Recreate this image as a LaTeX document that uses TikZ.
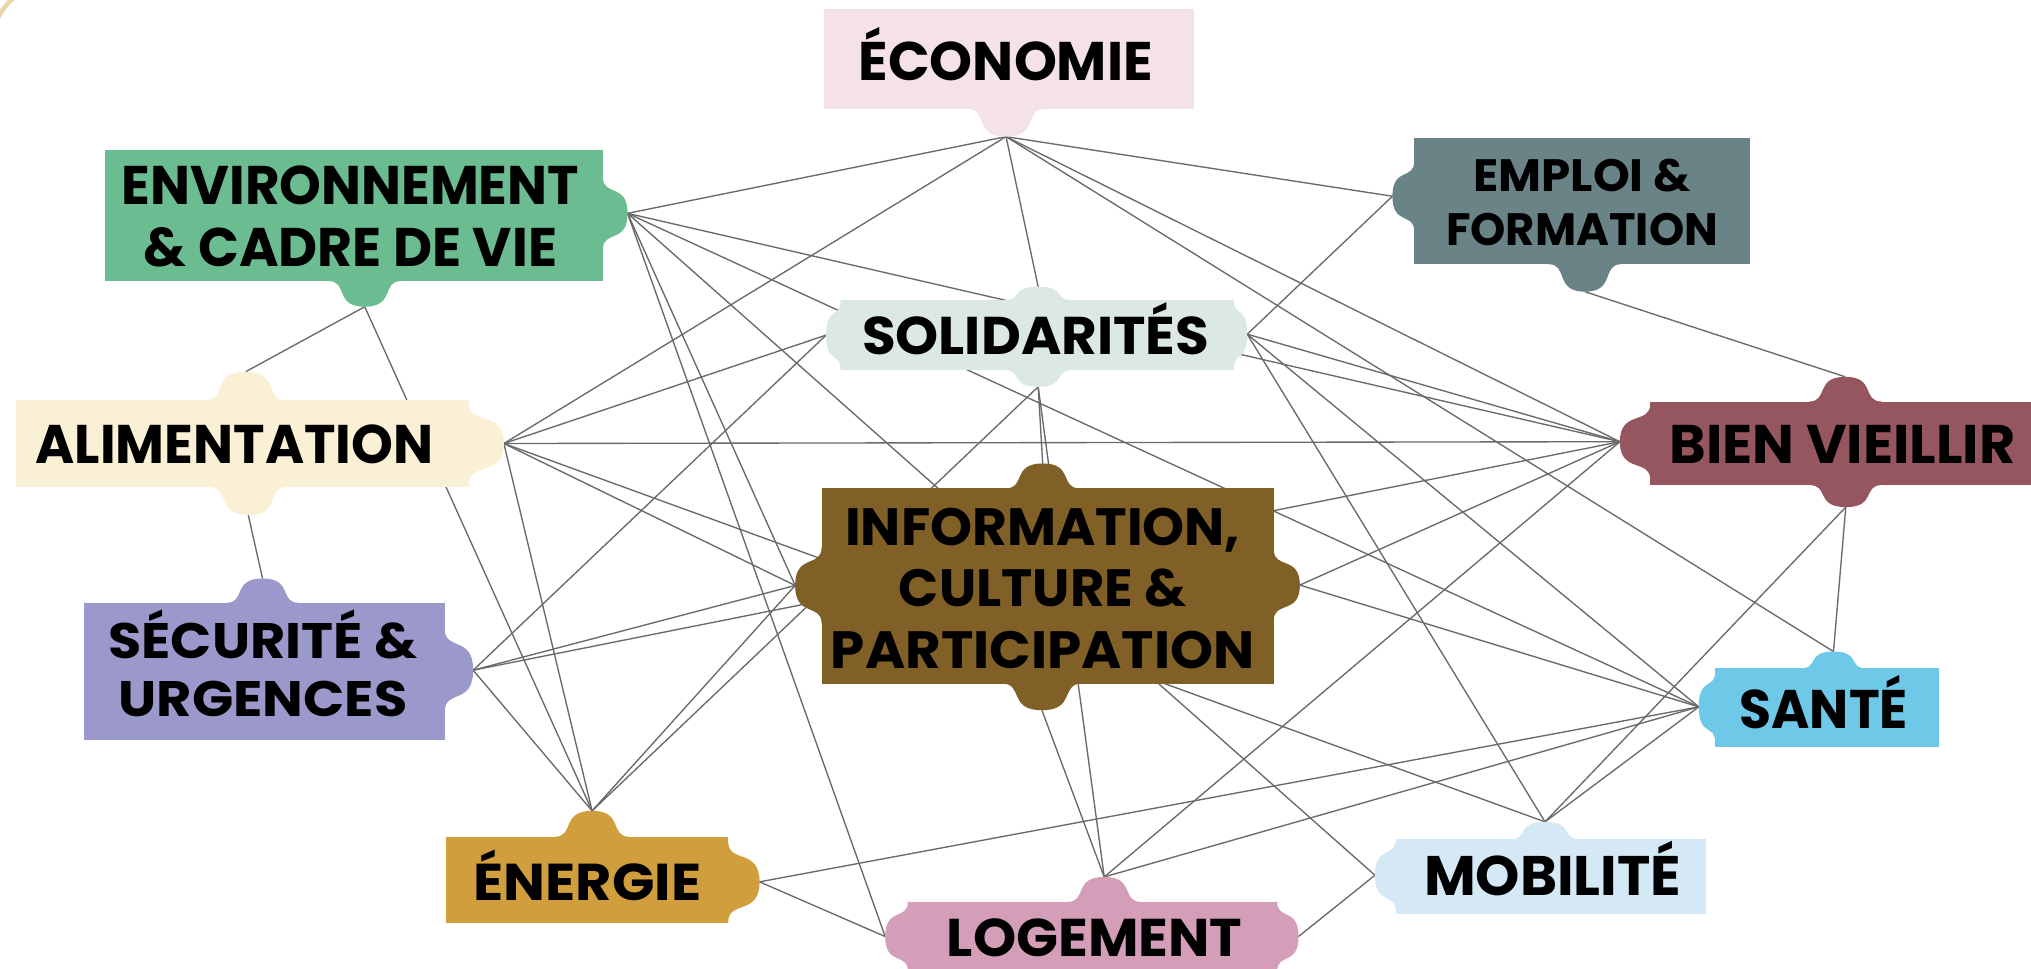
\documentclass[tikz,border=0pt]{standalone}
\usepackage{fontspec}
\setmainfont{Poppins}
\usepackage{graphicx}
\definecolor{ecoC}{HTML}{F5E1E9}
\definecolor{envC}{HTML}{6BBD91}
\definecolor{empC}{HTML}{6A8387}
\definecolor{solC}{HTML}{DCE8E3}
\definecolor{aliC}{HTML}{F9F0D6}
\definecolor{bvC}{HTML}{955660}
\definecolor{infC}{HTML}{806026}
\definecolor{secC}{HTML}{9B99CB}
\definecolor{sanC}{HTML}{6EC8E8}
\definecolor{enC}{HTML}{D09E3C}
\definecolor{mobC}{HTML}{D4E8F6}
\definecolor{logC}{HTML}{D49DB8}
\definecolor{linkC}{HTML}{6A6A6A}
\definecolor{arcC}{HTML}{EAD7A6}
\newcommand\fw[2]{\resizebox{#1}{\height}{#2}}
\newcommand\bmp[6]{\begin{scope}[shift={(#1,#2)},rotate=#3]
  \fill[#6] (-#4pt,-0.8pt) -- (-#4pt,0pt) .. controls (-0.45*#4pt,0pt) and (-0.85*#4pt,#5pt) .. (0pt,#5pt)
    .. controls (0.85*#4pt,#5pt) and (0.45*#4pt,0pt) .. (#4pt,0pt) -- (#4pt,-0.8pt) -- cycle;
  \end{scope}}
\tikzset{
  link/.style={draw=linkC, line width=1.05pt},
  box/.style={rectangle, inner sep=0pt, outer sep=0pt, draw=none},
  lbl/.style={anchor=base, inner sep=0pt, outer sep=0pt, text=black, align=center},
}
\begin{document}
\begin{tikzpicture}[x=1pt,y=-1pt]
\useasboundingbox (0,0) rectangle (1568,748);
\clip (0,0) rectangle (1568,748);
\fill[white] (0,0) rectangle (1568,748);
\draw[arcC, line width=3.5pt] (-1,13) .. controls (2,7) and (5,3) .. (10,-1);
% anchors
\coordinate (E) at (776.7,105.5);
\coordinate (envR) at (484.5,164.7);
\coordinate (envB) at (281.6,236.8);
\coordinate (empL) at (1075,151.5);
\coordinate (empB) at (1223.6,225.2);
\coordinate (solT) at (801.5,221.4);
\coordinate (solB) at (801.5,298.6);
\coordinate (solL) at (637.8,258.7);
\coordinate (solR) at (962.9,258);
\coordinate (aliT) at (189.6,287);
\coordinate (aliR) at (389,342.4);
\coordinate (aliB) at (191.7,397.7);
\coordinate (bvL) at (1250.6,341);
\coordinate (bvT) at (1424.6,290.9);
\coordinate (bvB) at (1425,391.5);
\coordinate (infT) at (805,357.8);
\coordinate (infL) at (613.9,452);
\coordinate (infR) at (1003.5,451.7);
\coordinate (infB) at (804.4,548.3);
\coordinate (secT) at (202.7,446.6);
\coordinate (secR) at (365.3,517.4);
\coordinate (sanL) at (1311.5,545.7);
\coordinate (sanT) at (1415.5,503);
\coordinate (enT) at (457.1,626);
\coordinate (enR) at (586.4,680.8);
\coordinate (mobL) at (1061.5,675.7);
\coordinate (mobT) at (1192.8,634.5);
\coordinate (logT) at (852.5,677);
\coordinate (logL) at (683.4,723);
\coordinate (logR) at (1002.5,723);
% connectors
\foreach \a/\b in {E/envR, E/aliR, E/solT, E/empL, E/bvL, E/sanT,
  envR/bvL, envR/sanL, envR/mobL, envR/logL, envR/infL,
  envB/aliT, envB/enT, empL/solR, empB/bvT,
  solL/aliR, solL/secR, solB/infT, solB/logT, solB/enT,
  solR/bvL, solR/sanL, solR/mobT,
  aliR/bvL, aliR/infL, aliR/mobT, aliR/enT, aliB/secT,
  bvL/secR, bvL/infR, bvL/logT, bvB/sanT, bvB/mobT,
  infL/secR, infL/enT, infR/sanL, infB/logT,
  secR/enT, sanL/enR, sanL/logT, sanL/mobT, enR/logL, logR/mobL}
  \draw[link] (\a) -- (\b);
% bumps
\bmp{776.7}{84}{180}{30}{21.5}{ecoC}
\bmp{465.4}{164.7}{-90}{28}{19.1}{envC}
\bmp{281.6}{217}{180}{28}{19.8}{envC}
\bmp{1091.8}{151.5}{90}{27}{16.8}{empC}
\bmp{1223.6}{204}{180}{28}{21.2}{empC}
\bmp{801.5}{231.7}{0}{26}{10.3}{solC}
\bmp{801.5}{285.7}{180}{26}{12.9}{solC}
\bmp{649}{258.7}{90}{27}{11.2}{solC}
\bmp{952.5}{258}{-90}{27}{10.4}{solC}
\bmp{189.6}{309}{0}{31}{22}{aliC}
\bmp{362}{342.4}{-90}{31}{27}{aliC}
\bmp{191.7}{376}{180}{30}{21.7}{aliC}
\bmp{1274}{341}{90}{29}{23.4}{bvC}
\bmp{1424.6}{310}{0}{28}{19.1}{bvC}
\bmp{1425}{374.5}{180}{28}{17}{bvC}
\bmp{805}{377}{0}{28.5}{19.2}{infC}
\bmp{634.3}{452}{90}{29.5}{20.4}{infC}
\bmp{983.5}{451.7}{-90}{27}{20}{infC}
\bmp{804.4}{527.7}{180}{31}{20.6}{infC}
\bmp{202.7}{465.4}{0}{28}{18.8}{secC}
\bmp{343.3}{517.4}{-90}{32}{22}{secC}
\bmp{1324.3}{545.7}{90}{28}{12.8}{sanC}
\bmp{1415.5}{516}{0}{25}{13}{sanC}
\bmp{457.1}{646}{0}{29}{20}{enC}
\bmp{562.2}{680.8}{-90}{31}{24.2}{enC}
\bmp{1077.7}{675.7}{90}{28}{16.2}{mobC}
\bmp{1192.8}{648}{0}{27}{13.5}{mobC}
\bmp{852.5}{696.3}{0}{28.5}{19.3}{logC}
\bmp{701}{723}{90}{27}{17.6}{logC}
\bmp{986}{723}{-90}{27}{16.5}{logC}
% boxes
\node[box, fill=ecoC, minimum width=285.6pt, minimum height=77pt] (eco) at (779.2,45.5) {};
\node[box, fill=envC, minimum width=384.4pt, minimum height=101.2pt] (env) at (273.2,166.4) {};
\node[box, fill=empC, minimum width=259.6pt, minimum height=97.2pt] (emp) at (1221.6,155.4) {};
\node[box, fill=solC, minimum width=303.5pt, minimum height=54pt] (sol) at (800.75,258.7) {};
\node[box, fill=aliC, minimum width=349.6pt, minimum height=67pt] (ali) at (187.2,342.5) {};
\node[box, fill=bvC, minimum width=296pt, minimum height=64.5pt] (bv) at (1422,342.25) {};
\node[box, fill=infC, minimum width=349.2pt, minimum height=150.7pt] (inf) at (808.9,452.35) {};
\node[box, fill=secC, minimum width=278.5pt, minimum height=105.6pt] (sec) at (204.05,518.2) {};
\node[box, fill=sanC, minimum width=172.7pt, minimum height=60.6pt] (san) at (1410.65,546.3) {};
\node[box, fill=enC, minimum width=217.8pt, minimum height=66.5pt] (en) at (453.3,679.25) {};
\node[box, fill=mobC, minimum width=239.7pt, minimum height=57.3pt] (mob) at (1197.55,676.65) {};
\node[box, fill=logC, minimum width=285pt, minimum height=63.7pt] (log) at (843.5,728.15) {};
% labels (base anchor = baseline of the last line)
\node[lbl, font=\bfseries\fontsize{42}{48}\selectfont] (ecoT) at (776.5,61.8) {\fw{227pt}{ÉCONOMIE}};
\node[lbl, font=\bfseries\fontsize{42}{48.5}\selectfont] (envT) at (270.6,206) {\fw{353pt}{ENVIRONNEMENT}\\\fw{319pt}{\& CADRE DE VIE}};
\node[lbl, font=\bfseries\fontsize{35}{41.2}\selectfont] (empT) at (1221.5,189.2) {\fw{168pt}{EMPLOI \&}\\\fw{210pt}{FORMATION}};
\node[lbl, font=\bfseries\fontsize{41}{48}\selectfont] (solT2) at (799.5,273.4) {\fw{268pt}{SOLIDARITÉS}};
\node[lbl, font=\bfseries\fontsize{42}{48}\selectfont] (aliT2) at (181,357.8) {\fw{307pt}{ALIMENTATION}};
\node[lbl, font=\bfseries\fontsize{42}{48}\selectfont] (bvT2) at (1422.5,357.8) {\fw{267pt}{BIEN VIEILLIR}};
\node[lbl, font=\bfseries\fontsize{40.5}{47.6}\selectfont] (infT2) at (805,516) {\fw{305pt}{INFORMATION,}\\\fw{222pt}{CULTURE \&}\\\fw{327pt}{PARTICIPATION}};
\node[lbl, font=\bfseries\fontsize{38.5}{45}\selectfont] (secT2) at (203,553.4) {\fw{238.6pt}{SÉCURITÉ \&}\\\fw{223pt}{URGENCES}};
\node[lbl, font=\bfseries\fontsize{42}{48}\selectfont] (sanT2) at (1408,562.4) {\fw{130pt}{SANTÉ}};
\node[lbl, font=\bfseries\fontsize{40}{48}\selectfont] (enT2) at (453.6,695) {\fw{175.7pt}{ÉNERGIE}};
\node[lbl, font=\bfseries\fontsize{43}{48}\selectfont] (mobT2) at (1198.7,691.1) {\fw{198.6pt}{MOBILITÉ}};
\node[lbl, font=\bfseries\fontsize{41}{48}\selectfont] (logT2) at (845,738.3) {\fw{228pt}{LOGEMENT}};
\end{tikzpicture}
\end{document}
